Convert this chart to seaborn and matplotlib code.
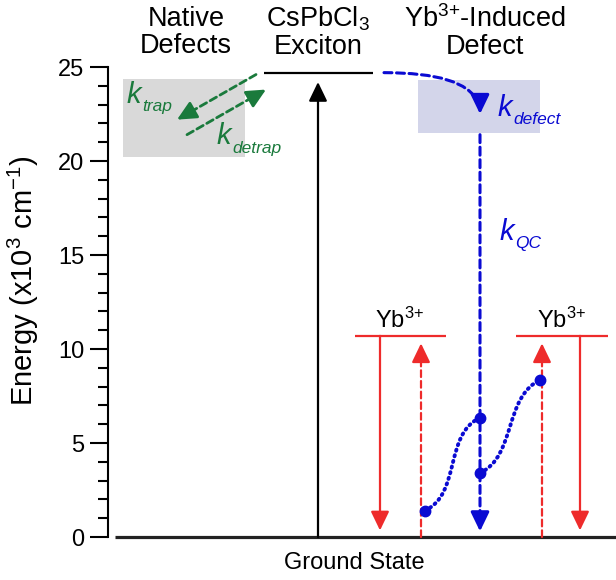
import numpy as np
import matplotlib.pyplot as plt
import seaborn as sns
from matplotlib.path import Path
from matplotlib.patches import PathPatch, Rectangle

# energies in 10^3 cm^-1
exciton_E = 24.7
yb_E = 10.7
native_box = [20.2, 24.35]
defect_box = [21.5, 24.3]
trap_E = [24.6, 22.2]       # exciton -> native defect
detrap_E = [21.4, 23.8]     # native defect -> exciton
kdef_E = [24.7, 22.5]       # exciton -> Yb-induced defect
kqc_E = [21.4, 0.3]         # defect -> ground (quantum cutting)
excite_E = [0, 24.2]
yb_emit_E = [yb_E, 0.35]
yb_absorb_E = [0, 10.3]
dot_E = [1.4, 6.35, 3.4, 8.35]
yticks = [0, 5, 10, 15, 20, 25]
headers = ["Native\nDefects", "CsPbCl$_3$\nExciton", "Yb$^{3{+}}$-Induced\nDefect"]

# horizontal layout (in pixel-like units along x)
x_native, x_exc, x_def = 186, 318, 480
x_yb1 = [380, 421]
x_yb2 = [542, 580]

green = '#1a7a3c'
blue = '#0a0ad2'
red = '#ee2b2b'

sns.set_theme(style="ticks")
plt.rcParams['font.family'] = ['Liberation Sans', 'DejaVu Sans']
plt.rcParams['mathtext.fontset'] = 'custom'
plt.rcParams['mathtext.rm'] = 'Liberation Sans'
plt.rcParams['mathtext.it'] = 'Liberation Sans:italic'
for k in ['text.color', 'axes.labelcolor', 'xtick.color', 'ytick.color']:
    plt.rcParams[k] = 'black'

fig = plt.figure(figsize=(6.16, 5.8), dpi=100)
ax = fig.add_axes([108/616, 43/580, 508/616, 470/580])
ax.set_xlim(108, 616)
ax.set_ylim(0, 25)

HEAD = '-|>,head_length=0.58,head_width=0.28'

def head(x1, y1, ux, uy, color, lw):
    # solid arrow head at (x1, y1), coming from direction (ux, uy) in display units
    n = np.hypot(ux, uy)
    ax.annotate('', xy=(x1, y1), xytext=(-ux/n*13, -uy/n*13), textcoords='offset points',
                annotation_clip=False,
                arrowprops=dict(arrowstyle=HEAD, mutation_scale=20, color=color, lw=lw,
                                shrinkA=0, shrinkB=0))

def arrow(x0, y0, x1, y1, color, ls='-', lw=1.6, cs=None, end_dir=None):
    if ls == '-':
        ax.annotate('', xy=(x1, y1), xytext=(x0, y0), annotation_clip=False,
                    arrowprops=dict(arrowstyle=HEAD, mutation_scale=20, color=color, lw=lw,
                                    shrinkA=0, shrinkB=0, connectionstyle=cs))
        return
    ax.annotate('', xy=(x1, y1), xytext=(x0, y0), annotation_clip=False,
                arrowprops=dict(arrowstyle='-', color=color, lw=lw, ls=ls,
                                shrinkA=0, shrinkB=9, connectionstyle=cs))
    if end_dir is None:
        p0 = ax.transData.transform((x0, y0))
        p1 = ax.transData.transform((x1, y1))
        end_dir = p1 - p0
    head(x1, y1, end_dir[0], end_dir[1], color, lw)

# boxes
ax.add_patch(Rectangle((123, native_box[0]), 122, native_box[1]-native_box[0],
                       color='#d9d9d9', lw=0, zorder=0))
ax.add_patch(Rectangle((418, defect_box[0]), 122, defect_box[1]-defect_box[0],
                       color='#d3d5ea', lw=0, zorder=0))

# levels
ax.plot([115, 616], [0, 0], color='#222222', lw=2.3, clip_on=False, solid_capstyle='butt')
ax.plot([264, 373], [exciton_E]*2, color='black', lw=1.6, solid_capstyle='butt')
ax.plot([355, 446], [yb_E]*2, color=red, lw=1.6, solid_capstyle='butt')
ax.plot([516, 608], [yb_E]*2, color=red, lw=1.6, solid_capstyle='butt')

# excitation
arrow(x_exc, excite_E[0], x_exc, excite_E[1], 'black')

# trapping / detrapping
dash = (0, (2.6, 1.5))
arrow(256, trap_E[0], 177, trap_E[1], green, ls=dash, lw=2)
arrow(187, detrap_E[0], 266, detrap_E[1], green, ls=dash, lw=2)

# defect formation and quantum cutting
arrow(384, kdef_E[0], x_def, kdef_E[1], blue, ls=dash, lw=2.2,
      cs='angle3,angleA=0,angleB=90', end_dir=(0, -1))
arrow(x_def, kqc_E[0], x_def, kqc_E[1], blue, ls=dash, lw=2.2)

# Yb3+ absorption / emission
arrow(x_yb1[0], yb_emit_E[0], x_yb1[0], yb_emit_E[1], red)
arrow(x_yb1[1], yb_absorb_E[0], x_yb1[1], yb_absorb_E[1], red, ls=(0, (3, 1.8)))
arrow(x_yb2[0], yb_absorb_E[0], x_yb2[0], yb_absorb_E[1], red, ls=(0, (3, 1.8)))
arrow(x_yb2[1], yb_emit_E[0], x_yb2[1], yb_emit_E[1], red)

# energy transfer (dotted S curves)
for (xa, ea), (xb, eb) in [((425, dot_E[0]), (x_def, dot_E[1])),
                           ((x_def, dot_E[2]), (540, dot_E[3]))]:
    p = Path([(xa, ea), (xa + 36, ea + 0.9), (xb - 36, eb - 0.9), (xb, eb)],
             [Path.MOVETO, Path.CURVE4, Path.CURVE4, Path.CURVE4])
    ax.add_patch(PathPatch(p, fill=False, ec=blue, lw=2.8,
                           ls=(0, (0.3, 1.2)), capstyle='round'))
ax.plot([425, x_def, x_def, 540], dot_E, 'o', color=blue, ms=7.5, zorder=5)

# rate labels
def klabel(x, y, sub, color):
    ax.text(x, y, 'k', style='italic', fontsize=21, color=color, va='baseline')
    ax.text(x + 15, y - 0.45, sub, style='italic', fontsize=12.5, color=color, va='baseline')

klabel(127, 23.1, 'trap', green)
klabel(217, 20.9, 'detrap', green)
klabel(498, 22.4, 'defect', blue)
klabel(500, 15.8, 'QC', blue)

ax.text(400, 11.1, 'Yb$^{3{+}}$', fontsize=17, ha='center', va='baseline')
ax.text(562, 11.1, 'Yb$^{3{+}}$', fontsize=17, ha='center', va='baseline')

for x, h in zip([x_native, x_exc, 485], headers):
    ax.text(x, 26.85, h, fontsize=19.5, ha='center', va='center', linespacing=1.05,
            clip_on=False)
ax.text(354, -1.4, 'Ground State', fontsize=17, ha='center', va='center', clip_on=False)

# axis styling
ax.set_yticks(yticks)
ax.set_yticks(np.arange(0, 26, 1), minor=True)
ax.tick_params(axis='y', which='major', length=13, width=1.5, labelsize=17, pad=4)
ax.tick_params(axis='y', which='minor', length=7, width=1.5)
ax.set_xticks([])
sns.despine(ax=ax, bottom=True)
ax.spines['left'].set_linewidth(1.5)
ax.spines['left'].set_color('black')
ax.set_ylabel('Energy (x10$^3$ cm$^{-1}$)', fontsize=21)
ax.yaxis.set_label_coords(-0.132, 0.545)
ax.patch.set_alpha(0)

fig.savefig('out.png', dpi=100)
